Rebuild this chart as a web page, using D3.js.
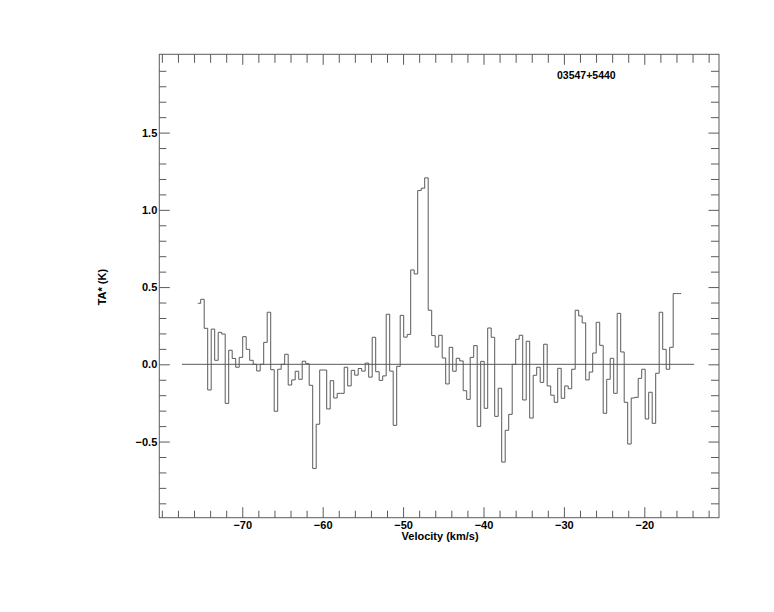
<!DOCTYPE html>
<html>
<head>
<meta charset="utf-8">
<script src="https://cdn.jsdelivr.net/npm/d3@7"></script>
<style>
  html, body { margin: 0; padding: 0; background: #fff; }
  svg { display: block; }
  text { font-family: "Liberation Sans", Arial, Helvetica, sans-serif; font-weight: bold; fill: #000; }
</style>
</head>
<body>
<svg id="chart" width="774" height="612"></svg>
<script>
// ---- data ----
const sourceName = "03547+5440";
const xTitle = "Velocity (km/s)";
const yTitle = "TA* (K)";
const xDomain = [-80.32, -10.71];
const yDomain = [-0.993, 2.007];
const xMajorTicks = [-70, -60, -50, -40, -30, -20];
const yMajorTicks = [-0.5, 0.0, 0.5, 1.0, 1.5];
const xMinorStep = 2;
const yMinorStep = 0.1;
const baselineRange = [-77.5, -13.8];
// spectrum: first channel velocity, channel width (km/s), antenna temperatures (K)
const firstChannelVelocity = -75.389;
const channelWidth = 0.4353;
const spectrumStart = -75.54;
const spectrumEnd = -15.43;
const ta = [
  0.395, 0.421, 0.233, -0.166, 0.228, 0.026, 0.207, 0.196, -0.253, 0.091,
  0.038, -0.019, 0.045, 0.179, 0.097, 0.026, 0.000, -0.043, 0.000, 0.142,
  0.337, -0.035, -0.304, -0.032, 0.000, 0.065, -0.134, -0.101, -0.045, -0.097,
  0.020, 0.004, -0.136, -0.674, -0.388, -0.037, -0.037, -0.289, -0.106, -0.218,
  -0.188, -0.188, -0.019, -0.140, -0.039, -0.070, -0.027, -0.044, 0.008, -0.083,
  0.175, -0.048, -0.104, -0.075, 0.324, -0.044, -0.395, -0.013, 0.317, 0.176,
  0.194, 0.611, 0.585, 1.125, 1.140, 1.207, 0.350, 0.186, 0.112, 0.188,
  0.041, -0.127, 0.110, -0.045, 0.039, 0.022, -0.171, -0.227, 0.045, 0.121,
  -0.402, 0.019, -0.285, 0.235, 0.175, -0.337, -0.155, -0.633, -0.427, -0.324,
  0.000, 0.162, 0.188, -0.231, 0.149, -0.348, -0.071, -0.019, -0.117, 0.130,
  -0.140, -0.200, -0.246, -0.026, -0.220, -0.140, -0.158, -0.032, 0.350, 0.313,
  0.268, -0.101, -0.050, 0.073, 0.272, 0.123, -0.317, -0.097, 0.039, -0.188,
  0.330, 0.080, -0.246, -0.516, -0.218, -0.214, -0.091, -0.032, -0.354, -0.181,
  -0.382, -0.058, 0.337, 0.097, -0.032, 0.110, 0.458, 0.458
];

// ---- layout ----
const plot = { left: 159.3, right: 719, top: 54.3, bottom: 517.7 };
const lineColor = "#5a5a5a";

const svg = d3.select("#chart");
const x = d3.scaleLinear().domain(xDomain).range([plot.left, plot.right]);
const y = d3.scaleLinear().domain(yDomain).range([plot.bottom, plot.top]);

const xMinor = d3.range(Math.ceil(xDomain[0] / xMinorStep) * xMinorStep, xDomain[1], xMinorStep)
  .filter(v => !xMajorTicks.some(m => Math.abs(m - v) < 1e-6));
const yMinor = d3.range(-0.9, 2.0, yMinorStep).map(v => Math.round(v * 10) / 10)
  .filter(v => v > yDomain[0] && v < yDomain[1] && !yMajorTicks.some(m => Math.abs(m - v) < 1e-6));

function styleAxis(g) {
  g.select(".domain").remove();
  g.selectAll(".tick line").attr("stroke", lineColor).attr("stroke-width", 1);
  g.selectAll(".tick text").attr("font-size", 11).attr("font-weight", "bold")
    .attr("font-family", '"Liberation Sans", Arial, sans-serif').attr("fill", "#000");
}

// bottom axis
svg.append("g").attr("transform", `translate(0,${plot.bottom})`)
  .call(d3.axisBottom(x).tickValues(xMajorTicks).tickSize(-10.5).tickPadding(-2).tickFormat(d3.format("d")))
  .call(styleAxis)
  .call(g => g.selectAll(".tick text").attr("dy", "1.25em"));
svg.append("g").attr("transform", `translate(0,${plot.bottom})`)
  .call(d3.axisBottom(x).tickValues(xMinor).tickSize(-7).tickFormat(""))
  .call(styleAxis);
// top axis
svg.append("g").attr("transform", `translate(0,${plot.top})`)
  .call(d3.axisTop(x).tickValues(xMajorTicks).tickSize(-10.5).tickFormat(""))
  .call(styleAxis);
svg.append("g").attr("transform", `translate(0,${plot.top})`)
  .call(d3.axisTop(x).tickValues(xMinor).tickSize(-8.5).tickFormat(""))
  .call(styleAxis);
// left axis
svg.append("g").attr("transform", `translate(${plot.left},0)`)
  .call(d3.axisLeft(y).tickValues(yMajorTicks).tickSize(-10.5).tickPadding(2).tickFormat(d3.format(".1f")))
  .call(styleAxis)
  .call(g => g.selectAll(".tick text").attr("x", -2));
svg.append("g").attr("transform", `translate(${plot.left},0)`)
  .call(d3.axisLeft(y).tickValues(yMinor).tickSize(-7).tickFormat(""))
  .call(styleAxis);
// right axis
svg.append("g").attr("transform", `translate(${plot.right},0)`)
  .call(d3.axisRight(y).tickValues(yMajorTicks).tickSize(-10.5).tickFormat(""))
  .call(styleAxis);
svg.append("g").attr("transform", `translate(${plot.right},0)`)
  .call(d3.axisRight(y).tickValues(yMinor).tickSize(-8).tickFormat(""))
  .call(styleAxis);

// frame
svg.append("rect")
  .attr("x", plot.left).attr("y", plot.top)
  .attr("width", plot.right - plot.left).attr("height", plot.bottom - plot.top)
  .attr("fill", "none").attr("stroke", lineColor).attr("stroke-width", 1);

// baseline
svg.append("line")
  .attr("x1", x(baselineRange[0])).attr("x2", x(baselineRange[1]))
  .attr("y1", y(0)).attr("y2", y(0))
  .attr("stroke", lineColor).attr("stroke-width", 1);

// spectrum (histogram style)
const pts = ta.map((t, i) => [firstChannelVelocity + i * channelWidth, t]);
const stepPts = [[spectrumStart, ta[0]], ...pts, [spectrumEnd, ta[ta.length - 1]]];
const line = d3.line().x(d => x(d[0])).y(d => y(d[1])).curve(d3.curveStep);
svg.append("path")
  .attr("d", line(stepPts))
  .attr("fill", "none").attr("stroke", lineColor).attr("stroke-width", 1);

// titles
svg.append("text").attr("x", x(-45.4)).attr("y", 540)
  .attr("text-anchor", "middle").attr("font-size", 11).text(xTitle);
svg.append("text")
  .attr("transform", `translate(106,${y(0.5)}) rotate(-90)`)
  .attr("text-anchor", "middle").attr("font-size", 11).text(yTitle);
svg.append("text").attr("x", 557).attr("y", 79)
  .attr("font-size", 10.5).text(sourceName);
</script>
</body>
</html>
